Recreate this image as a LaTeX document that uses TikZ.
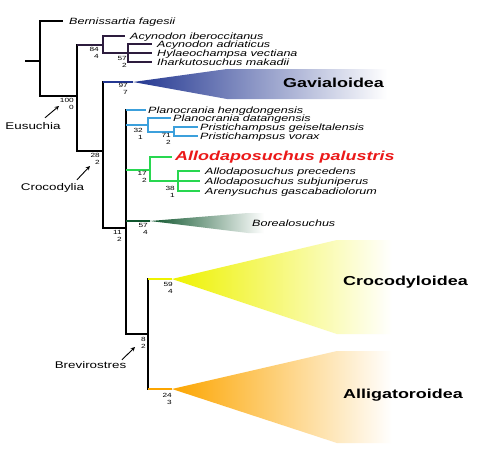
\documentclass[tikz,border=0pt]{standalone}
\usepackage{fontspec}
\setmainfont{Liberation Sans}[FakeStretch=1.38]
\usetikzlibrary{positioning}

\definecolor{cladePurple}{RGB}{45,28,62}
\definecolor{cladeBlue}{RGB}{60,160,220}
\definecolor{cladeGreen}{RGB}{40,215,80}
\definecolor{gavBlue}{RGB}{35,55,145}
\definecolor{borGreen}{RGB}{15,85,45}
\definecolor{crocYellow}{RGB}{238,242,0}
\definecolor{alliOrange}{RGB}{252,165,0}
\definecolor{palRed}{RGB}{235,25,25}

\tikzset{
	branch/.style={line width=1.6pt, black},
	taxon/.style={font={\fontsize{9.1pt}{10pt}\selectfont\itshape}, anchor=base west, inner sep=0pt, yshift=-3.1pt},
	clade/.style={font={\fontsize{13pt}{14pt}\selectfont\bfseries}, anchor=base west, inner sep=0pt},
	support/.style={font={\fontsize{6pt}{7pt}\selectfont}, align=right, anchor=north east, inner sep=0pt},
	rank/.style={font={\fontsize{9.7pt}{11pt}\selectfont}, anchor=base, inner sep=0pt},
	pointer/.style={line width=0.9pt, -stealth}
}

\begin{document}
\begin{tikzpicture}[x=1pt, y=-1pt]
	\useasboundingbox[fill=white] (0,0) rectangle (500,452);
	% 1. Tree nodes and branch tips
	\coordinate (stub) at (25,61);
	\coordinate (root) at (40,61);
	\coordinate (bern) at (63,21);
	\coordinate (eus) at (77,96);
	\coordinate (acy) at (103,45);
	\coordinate (iber) at (125,36);
	\coordinate (hyl) at (128,53);
	\coordinate (adri) at (152,44);
	\coordinate (hyla) at (152,53);
	\coordinate (ihar) at (152,62);
	\coordinate (croc) at (103,151);
	\coordinate (gav) at (133,82);
	\coordinate (n11) at (126,228);
	\coordinate (heng) at (146,110);
	\coordinate (pla) at (148,125);
	\coordinate (dat) at (171,118);
	\coordinate (pri) at (174,132);
	\coordinate (geis) at (198,127);
	\coordinate (vor) at (198,136);
	\coordinate (allo) at (150,170);
	\coordinate (pal) at (172,157);
	\coordinate (all38) at (178,181);
	\coordinate (prec) at (200,171);
	\coordinate (subj) at (200,181);
	\coordinate (aren) at (200,191);
	\coordinate (bor) at (150,221);
	\coordinate (brev) at (148,334);
	\coordinate (crocS) at (172,279);
	\coordinate (alliS) at (172,389);

	% 2. Shaded clades
	\shade[left color=gavBlue, right color=white] (gav) -- (227,69) -- (387,69) -- (387,99) -- (227,99) -- cycle;
	\shade[left color=borGreen, right color=white] (bor) -- (248,213) -- (264,213) -- (264,233) -- (248,233) -- cycle;
	\shade[left color=crocYellow, right color=white] (crocS) -- (337,240) -- (392,240) -- (392,334) -- (337,334) -- cycle;
	\shade[left color=alliOrange, right color=white] (alliS) -- (337,351) -- (392,351) -- (392,443) -- (337,443) -- cycle;

	% 3. Backbone (black)
	\draw[branch] (stub) -- (root);
	\draw[branch] (root) |- (bern);
	\draw[branch] (root) |- (eus);
	\draw[branch] (eus) |- (acy);
	\draw[branch] (eus) |- (croc);
	\draw[branch] (croc) |- (gav);
	\draw[branch] (croc) |- (n11);
	\draw[branch] (n11) |- (heng);
	\draw[branch] (n11) |- (pla);
	\draw[branch] (n11) |- (allo);
	\draw[branch] (n11) |- (bor);
	\draw[branch] (n11) |- (brev);
	\draw[branch] (brev) |- (crocS);
	\draw[branch] (brev) |- (alliS);

	% 4. Coloured stems
	\draw[branch, cladePurple] (eus |- acy) -- (acy);
	\draw[branch, gavBlue] (croc |- gav) -- (gav);
	\draw[branch, cladeBlue] (n11 |- heng) -- (heng);
	\draw[branch, cladeBlue] (n11 |- pla) -- (pla);
	\draw[branch, cladeGreen] (n11 |- allo) -- (allo);
	\draw[branch, borGreen] (n11 |- bor) -- (bor);
	\draw[branch, crocYellow] (brev |- crocS) -- (crocS);
	\draw[branch, alliOrange] (brev |- alliS) -- (alliS);

	% Acynodon group
	\draw[branch, cladePurple] (acy) |- (iber);
	\draw[branch, cladePurple] (acy) |- (hyl);
	\draw[branch, cladePurple] (hyl) |- (adri);
	\draw[branch, cladePurple] (hyl) |- (hyla);
	\draw[branch, cladePurple] (hyl) |- (ihar);
	% Planocrania group
	\draw[branch, cladeBlue] (pla) |- (dat);
	\draw[branch, cladeBlue] (pla) |- (pri);
	\draw[branch, cladeBlue] (pri) |- (geis);
	\draw[branch, cladeBlue] (pri) |- (vor);
	% Allodaposuchus group
	\draw[branch, cladeGreen] (allo) |- (pal);
	\draw[branch, cladeGreen] (allo) |- (all38);
	\draw[branch, cladeGreen] (all38) |- (prec);
	\draw[branch, cladeGreen] (all38) |- (subj);
	\draw[branch, cladeGreen] (all38) |- (aren);

	% 5. Taxon names
	\node[taxon] (bernL) at ([xshift=6pt]bern) {Bernissartia fagesii};
	\node[taxon] (iberL) at ([xshift=5pt]iber) {Acynodon iberoccitanus};
	\node[taxon] (adriL) at ([xshift=5pt]adri) {Acynodon adriaticus};
	\node[taxon] (hylaL) at ([xshift=5pt]hyla) {Hylaeochampsa vectiana};
	\node[taxon] (iharL) at ([xshift=5pt]ihar) {Iharkutosuchus makadii};
	\node[taxon] (hengL) at ([xshift=2pt]heng) {Planocrania hengdongensis};
	\node[taxon] (datL) at ([xshift=2pt]dat) {Planocrania datangensis};
	\node[taxon] (geisL) at ([xshift=2pt]geis) {Pristichampsus geiseltalensis};
	\node[taxon] (vorL) at ([xshift=2pt]vor) {Pristichampsus vorax};
	\node[taxon, font={\fontsize{13pt}{14pt}\selectfont\bfseries\itshape}, text=palRed, yshift=0.1pt] (palL) at ([xshift=3pt]pal) {Allodaposuchus palustris};
	\node[taxon] (precL) at ([xshift=5pt]prec) {Allodaposuchus precedens};
	\node[taxon] (subjL) at ([xshift=5pt]subj) {Allodaposuchus subjuniperus};
	\node[taxon] (arenL) at ([xshift=5pt]aren) {Arenysuchus gascabadiolorum};
	\node[taxon, yshift=3.1pt] (borL) at (252,226) {Borealosuchus};

	% 6. Clade names
	\node[clade] (gavL) at (283,87.3) {Gavialoidea};
	\node[clade] (crocL) at (343,285) {Crocodyloidea};
	\node[clade] (alliL) at (343,398.5) {Alligatoroidea};

	% 7. Support values
	\node[support] (s100) at (74,98) {100\\0};
	\node[support] (s84) at (99,47) {84\\4};
	\node[support] (s57) at (127,56) {57\\2};
	\node[support] (s97) at (128,83) {97\\7};
	\node[support] (s28) at (100,153) {28\\2};
	\node[support] (s11) at (122,230) {11\\2};
	\node[support] (s32) at (143,128) {32\\1};
	\node[support] (s71) at (171,133) {71\\2};
	\node[support] (s17) at (147,171) {17\\2};
	\node[support] (s38) at (175,186) {38\\1};
	\node[support] (s57b) at (148,223) {57\\4};
	\node[support] (s8) at (146,337) {8\\2};
	\node[support] (s59) at (173,282) {59\\4};
	\node[support] (s24) at (172,393) {24\\3};

	% 8. Named nodes with arrows
	\node[rank] (eusL) at (33,129) {Eusuchia};
	\node[rank] (crL) at (52.5,190) {Crocodylia};
	\node[rank] (brL) at (90.5,368) {Brevirostres};
	\coordinate (eusH) at (59,106);
	\coordinate (crH) at (90,166);
	\coordinate (brH) at (135,347);
	\draw[pointer] ([shift={(12pt,4pt)}]eusL.north) -- (eusH);
	\draw[pointer] ([shift={(24.5pt,3pt)}]crL.north) -- (crH);
	\draw[pointer] ([shift={(31.5pt,1pt)}]brL.north) -- (brH);
\end{tikzpicture}
\end{document}
